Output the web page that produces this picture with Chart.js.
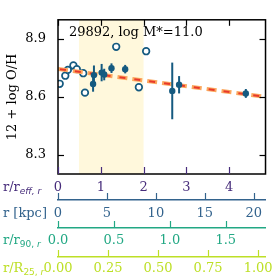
<!DOCTYPE html>
<html>
<head>
<meta charset="utf-8">
<script src="https://cdn.jsdelivr.net/npm/chart.js@4/dist/chart.umd.min.js"></script>
<style>
  html, body { margin: 0; padding: 0; background: #fff; }
  canvas { display: block; }
</style>
</head>
<body>
<canvas id="myChart" width="277" height="277"></canvas>
<script>
// open circles (individual spaxels / bins)
const openX = [0.04, 0.17, 0.23, 0.36, 0.44, 0.59, 0.63, 1.36, 1.89, 2.06];
const openY = [8.668, 8.710, 8.740, 8.763, 8.744, 8.723, 8.622, 8.860, 8.650, 8.837];

// filled points with errors
const filledX = [0.82, 0.84, 1.02, 1.08, 1.25, 1.57, 2.67, 2.83, 4.39];
const filledY = [8.667, 8.713, 8.726, 8.716, 8.749, 8.744, 8.631, 8.663, 8.618];
const filledErr = [0.04, 0.05, 0.045, 0.03, 0.025, 0.022, 0.147, 0.045, 0.023];

// gradient fit
const fitX = [0, 4.85];
const fitY = [8.745, 8.600];

// shaded fitting range in r/r_eff
const bandRange = [0.49, 2.0];

// axes
const reffRange = [0, 4.85];
const kpcRange = [0, 21.2];
const r90Range = [0, 1.855];
const r25Range = [0, 1.037];
const yRange = [8.2, 9.0];

const reffTicks = [0, 1, 2, 3, 4];
const kpcTicks = [0, 5, 10, 15, 20];
const r90Ticks = [0, 0.5, 1.0, 1.5];
const r25Ticks = [0, 0.25, 0.5, 0.75, 1.0];
const yTicks = [8.3, 8.6, 8.9];

const galaxyLabel = '29892, log M*=11.0';

const markerColor = '#155a80';
const colReff = '#472d7b';
const colKpc = '#33638d';
const colR90 = '#22a884';
const colR25 = '#bddf26';

Chart.defaults.font.family = '"DejaVu Serif", serif';
Chart.defaults.font.size = 13;

const tickFont = { family: '"DejaVu Serif", serif', size: 13, lineHeight: 1.2 };

function setTicks(values) {
    return scale => { scale.ticks = values.map(v => ({ value: v })); };
}

function bottomAxis(range, ticks, color, decimals, weight, padding, height) {
    return {
        type: 'linear',
        position: 'bottom',
        weight: weight,
        min: range[0],
        max: range[1],
        grid: { display: false, drawTicks: false },
        border: { display: weight > 0, color: color, width: 1.5 },
        ticks: {
            color: color,
            font: tickFont,
            padding: padding,
            autoSkip: false,
            maxRotation: 0,
            callback: v => Number(v).toFixed(decimals),
        },
        afterBuildTicks: setTicks(ticks),
        afterFit: s => { s.height = height; },
    };
}

// left side labels with subscripts: [main, sub parts...]
const axisLabels = [
    { id: 'x', color: colReff, main: 'r/r', sub: [['eff, r', 'italic']] },
    { id: 'x2', color: colKpc, main: 'r [kpc]', sub: [] },
    { id: 'x3', color: colR90, main: 'r/r', sub: [['90, ', 'normal'], ['r', 'italic']] },
    { id: 'x4', color: colR25, main: 'r/R', sub: [['25, ', 'normal'], ['r', 'italic']] },
];

const decor = {
    id: 'decor',
    beforeDatasetsDraw(chart) {
        const { ctx, chartArea, scales } = chart;
        const x0 = scales.x.getPixelForValue(bandRange[0]);
        const x1 = scales.x.getPixelForValue(bandRange[1]);
        ctx.save();
        ctx.fillStyle = '#fff8dc';
        ctx.fillRect(x0, chartArea.top, x1 - x0, chartArea.bottom - chartArea.top);
        ctx.restore();
    },
    beforeDatasetDraw(chart, args) {
        if (args.index !== 0) return;
        const { ctx, scales } = chart;
        ctx.save();
        ctx.strokeStyle = markerColor;
        ctx.lineWidth = 2;
        filledX.forEach((xv, i) => {
            const px = scales.x.getPixelForValue(xv);
            ctx.beginPath();
            ctx.moveTo(px, scales.y.getPixelForValue(filledY[i] - filledErr[i]));
            ctx.lineTo(px, scales.y.getPixelForValue(filledY[i] + filledErr[i]));
            ctx.stroke();
        });
        ctx.restore();
    },
    afterDraw(chart) {
        const { ctx, chartArea, scales } = chart;
        const { left, right, top, bottom } = chartArea;
        ctx.save();

        // frame
        ctx.strokeStyle = '#000';
        ctx.lineWidth = 1.5;
        ctx.strokeRect(left, top, right - left, bottom - top);

        // inward ticks
        ctx.lineWidth = 1.2;
        reffTicks.forEach(v => {
            const px = Math.round(scales.x.getPixelForValue(v)) + 0.5;
            ctx.strokeStyle = '#000';
            ctx.beginPath(); ctx.moveTo(px, top); ctx.lineTo(px, top + 6); ctx.stroke();
            ctx.strokeStyle = colReff;
            ctx.beginPath(); ctx.moveTo(px, bottom); ctx.lineTo(px, bottom - 7); ctx.stroke();
        });
        ctx.strokeStyle = '#000';
        yTicks.forEach(v => {
            const py = Math.round(scales.y.getPixelForValue(v)) + 0.5;
            ctx.beginPath(); ctx.moveTo(left, py); ctx.lineTo(left + 6, py); ctx.stroke();
            ctx.beginPath(); ctx.moveTo(right, py); ctx.lineTo(right - 6, py); ctx.stroke();
        });

        // upward ticks on the extra axes
        [['x2', kpcTicks, colKpc], ['x3', r90Ticks, colR90], ['x4', r25Ticks, colR25]].forEach(([id, ticks, color]) => {
            const s = scales[id];
            ctx.strokeStyle = color;
            ticks.forEach(v => {
                const px = Math.round(s.getPixelForValue(v)) + 0.5;
                ctx.beginPath(); ctx.moveTo(px, s.top); ctx.lineTo(px, s.top - 7); ctx.stroke();
            });
        });

        // axis names on the left
        axisLabels.forEach(lab => {
            const s = scales[lab.id];
            const base = s.top + (lab.id === 'x' ? 16.5 : 17) - (lab.id === 'x4' ? 2 : 0) - (lab.id === 'x3' ? 1 : 0);
            let xx = 3;
            ctx.fillStyle = lab.color;
            ctx.textBaseline = 'alphabetic';
            ctx.textAlign = 'left';
            ctx.font = '13px "DejaVu Serif"';
            ctx.fillText(lab.main, xx, base);
            xx += ctx.measureText(lab.main).width;
            lab.sub.forEach(([t, style]) => {
                ctx.font = (style === 'italic' ? 'italic ' : '') + '9px "DejaVu Sans"';
                ctx.fillText(t, xx, base + 3);
                xx += ctx.measureText(t).width;
            });
        });

        // galaxy label
        ctx.fillStyle = '#000';
        ctx.font = '13px "DejaVu Serif"';
        ctx.textBaseline = 'alphabetic';
        ctx.fillText(galaxyLabel, left + 11, top + 16);
        ctx.restore();
    }
};

new Chart(document.getElementById('myChart'), {
    type: 'scatter',
    data: {
        datasets: [
            {
                label: 'binned',
                data: filledX.map((x, i) => ({ x: x, y: filledY[i] })),
                backgroundColor: markerColor,
                borderColor: markerColor,
                pointRadius: 3.2,
                borderWidth: 0,
            },
            {
                type: 'line',
                label: 'fit red',
                data: fitX.map((x, i) => ({ x: x, y: fitY[i] })),
                borderColor: '#e8382b',
                borderWidth: 2,
                borderDash: [6, 9],
                borderDashOffset: -2,
                pointRadius: 0,
                fill: false,
            },
            {
                type: 'line',
                label: 'fit orange',
                data: fitX.map((x, i) => ({ x: x, y: fitY[i] })),
                borderColor: '#fba85e',
                borderWidth: 4,
                borderDash: [10, 5],
                pointRadius: 0,
                fill: false,
            },
            {
                label: 'spaxels',
                data: openX.map((x, i) => ({ x: x, y: openY[i] })),
                backgroundColor: '#ffffff',
                borderColor: markerColor,
                pointRadius: 3.3,
                borderWidth: 1.7,
            },
        ]
    },
    options: {
        responsive: false,
        animation: false,
        layout: { padding: { top: 16, right: 10.5, left: 0, bottom: 0 } },
        scales: {
            x: bottomAxis(reffRange, reffTicks, colReff, 0, 0, 6, 26),
            x2: bottomAxis(kpcRange, kpcTicks, colKpc, 0, 1, 6, 28),
            x3: bottomAxis(r90Range, r90Ticks, colR90, 1, 2, 5, 29),
            x4: bottomAxis(r25Range, r25Ticks, colR25, 2, 3, 4, 20),
            y: {
                type: 'linear',
                position: 'left',
                min: yRange[0],
                max: yRange[1],
                grid: { display: false, drawTicks: false },
                border: { display: false },
                ticks: {
                    color: '#000',
                    font: tickFont,
                    padding: 12,
                    callback: v => Number(v).toFixed(1),
                },
                afterBuildTicks: setTicks(yTicks),
                afterFit: s => { s.width = 58; },
                title: {
                    display: true,
                    text: '12 + log O/H',
                    color: '#000',
                    font: { family: '"DejaVu Serif", serif', size: 13, lineHeight: 1.2 },
                    padding: { top: 5, bottom: 0 },
                },
            },
        },
        plugins: {
            legend: { display: false },
            tooltip: { enabled: false },
        }
    },
    plugins: [decor],
});
</script>
</body>
</html>
